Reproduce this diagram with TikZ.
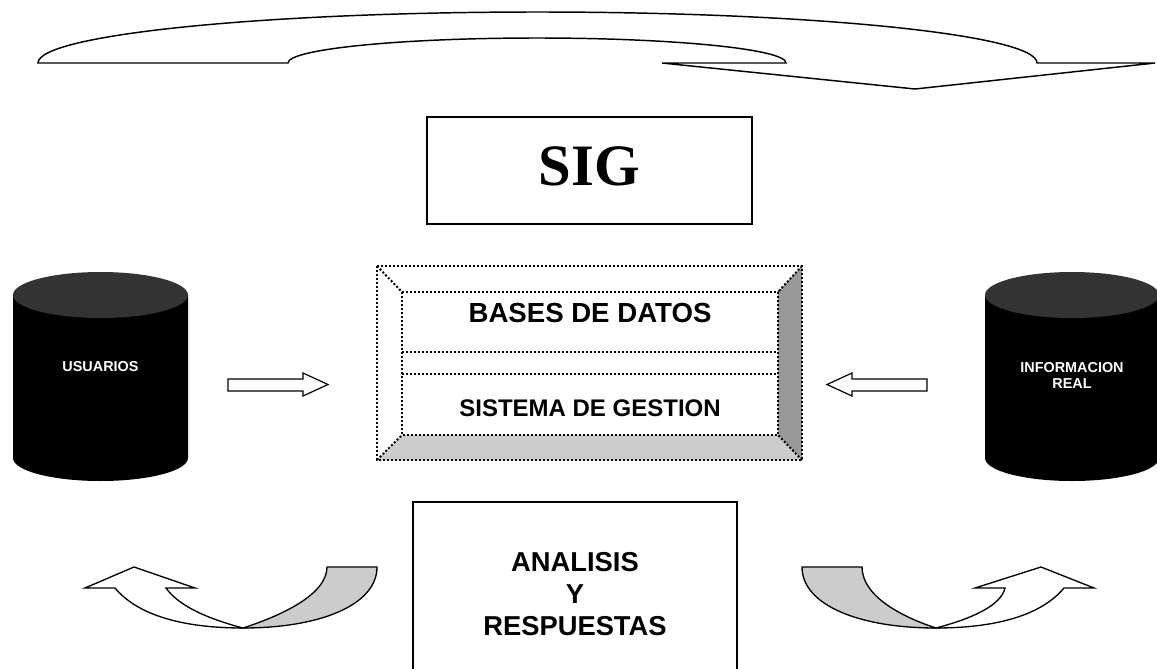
\documentclass[tikz,border=0pt]{standalone}
\usepackage{fontspec}
\setmainfont{Liberation Sans}
\newfontfamily\sigserif{Liberation Serif}
\definecolor{darkbev}{RGB}{153,153,153}
\definecolor{lightbev}{RGB}{204,204,204}
\definecolor{cyltop}{RGB}{51,51,51}
\begin{document}
\begin{tikzpicture}[x=0.75pt,y=-0.75pt,
  outl/.style={draw=black,line width=1.1pt,line join=miter},
  dots/.style={draw=black,line width=1.5pt,dash pattern=on 1.5pt off 1.5pt},
  txt/.style={inner sep=0pt,align=center,font=\bfseries}]
\useasboundingbox (0,0) rectangle (1157,668);

% top curved arrow
\draw[outl,fill=white] (38,63) arc[start angle=180,end angle=360,x radius=499.5,y radius=51]
  -- (1155,63) -- (915,89) -- (662,63) -- (786,63)
  arc[start angle=360,end angle=180,x radius=249,y radius=25] -- cycle;

% SIG box
\node[draw,line width=1pt,minimum width=325*0.75pt,minimum height=107*0.75pt,inner sep=0pt] (sigbox) at (589.5,170.5) {};
\node[inner sep=0pt,font=\sigserif\bfseries\fontsize{44}{50}\selectfont] (sig) at (589.5,166) {SIG};

% 3D box
\fill[darkbev] (778,292) -- (802,266) -- (802,460) -- (778,435) -- cycle;
\fill[lightbev] (402,435) -- (778,435) -- (802,460) -- (377,460) -- cycle;
\draw[dots] (377,266) rectangle (802,460);
\draw[dots] (402,292) rectangle (778,435);
\draw[dots] (377,266) -- (402,292);
\draw[dots] (802,266) -- (778,292);
\draw[dots] (377,460) -- (402,435);
\draw[dots] (802,460) -- (778,435);
\draw[dots] (402,352) -- (778,352);
\draw[dots] (402,374) -- (778,374);
\node[txt,font=\bfseries\fontsize{20.7}{24}\selectfont] (bd) at (590,313) {BASES DE DATOS};
\node[txt,font=\bfseries\fontsize{18}{22}\selectfont] (sg) at (590,408) {SISTEMA DE GESTION};

% left cylinder
\fill[black] (13,295) -- (13,458) arc[start angle=180,end angle=0,x radius=87.5,y radius=23] -- (188,295) -- cycle;
\fill[cyltop] (100.5,295) ellipse[x radius=87.5,y radius=23];
\node[txt,text=white,font=\bfseries\fontsize{10.8}{12}\selectfont] (usu) at (100.5,367) {USUARIOS};

% right cylinder
\fill[black] (985,295) -- (985,458) arc[start angle=180,end angle=0,x radius=87,y radius=23] -- (1159,295) -- cycle;
\fill[cyltop] (1072,295) ellipse[x radius=87,y radius=23];
\node[txt,text=white,font=\bfseries\fontsize{10.8}{12}\selectfont] (inf) at (1072,375) {INFORMACION\\REAL};

% small block arrows
\draw[line width=0.9pt,fill=white] (228,379) -- (303,379) -- (303,373) -- (328,384.5) -- (303,396) -- (303,391) -- (228,391) -- cycle;
\draw[line width=0.9pt,fill=white] (927,379) -- (852,379) -- (852,373) -- (827,384.5) -- (852,396) -- (852,391) -- (927,391) -- cycle;

% analysis box
\draw[line width=1pt] (413,672) -- (413,502) -- (737,502) -- (737,672);
\node[txt,font=\bfseries\fontsize{20.5}{24}\selectfont] (ana) at (575,594) {ANALISIS\\Y\\RESPUESTAS};

% bottom-left curved arrow
\draw[line width=1pt,fill=lightbev] (327,567) -- (377,567) .. controls (377,605) and (320,628) .. (243,628)
  .. controls (280,616) and (327,595) .. (327,567) -- cycle;
\draw[line width=1pt,fill=white] (115,588) .. controls (140,618) and (190,628) .. (243,628)
  .. controls (205,618) and (178,605) .. (166,588) -- (195,588) -- (134,567) -- (85,588) -- cycle;

% bottom-right curved arrow
\draw[line width=1pt,fill=lightbev] (862,567) -- (802,567) .. controls (802,605) and (859,628) .. (936,628)
  .. controls (899,616) and (862,595) .. (862,567) -- cycle;
\draw[line width=1pt,fill=white] (1064,588) .. controls (1039,618) and (989,628) .. (936,628)
  .. controls (974,618) and (1001,605) .. (1005,588) -- (975,588) -- (1041,567) -- (1094,588) -- cycle;
\end{tikzpicture}
\end{document}
